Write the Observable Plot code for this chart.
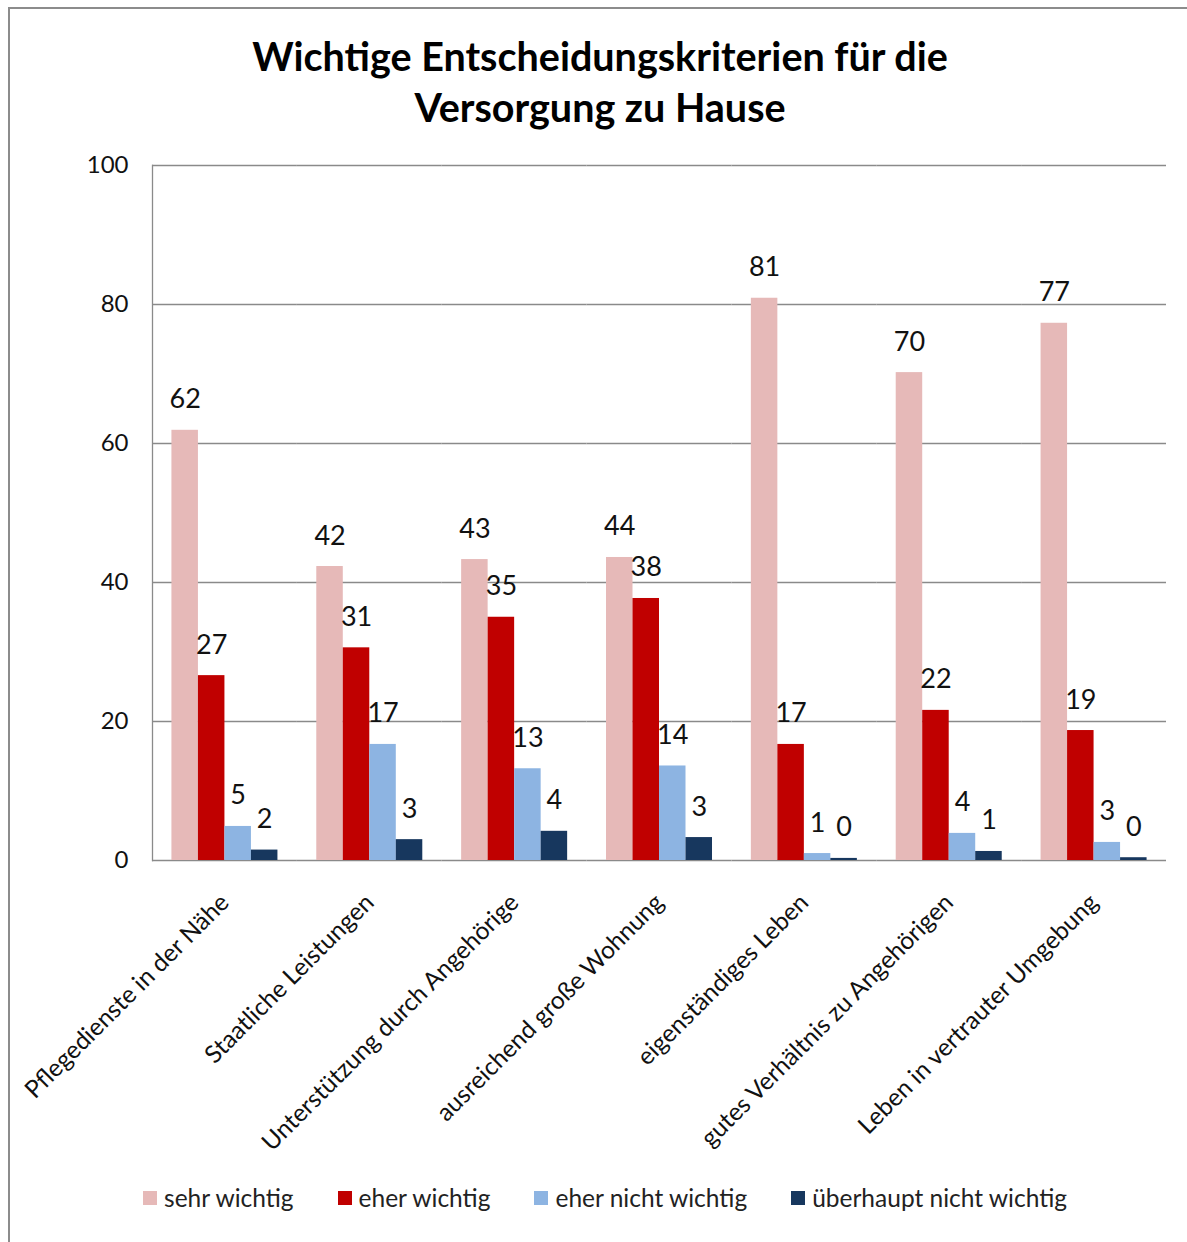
<!DOCTYPE html>
<html>
<head>
<meta charset="utf-8">
<script src="https://cdn.jsdelivr.net/npm/d3@7"></script>
<script src="https://cdn.jsdelivr.net/npm/@observablehq/plot@0.6"></script>
<style>
  html, body { margin: 0; padding: 0; background: #fff; }
  body { width: 1187px; height: 1242px; position: relative; overflow: hidden; font-family: Lato, "Open Sans", sans-serif; }
  #frame { position: absolute; left: 8px; top: 7px; width: 1200px; height: 1260px; border-left: 2px solid #8c8c8c; border-top: 2px solid #8c8c8c; }
  #title { position: absolute; left: 0; width: 1200px; top: 30px; text-align: center; font-weight: bold; font-size: 39.5px; line-height: 51px; color: #000; }
  #chart { position: absolute; left: 0; top: 140px; }
  #legend { position: absolute; top: 1183px; left: 0; width: 1210px; display: flex; justify-content: center; gap: 44px; font-size: 24.5px; color: #222; }
  .item { display: flex; align-items: center; gap: 7px; }
  .sw { width: 14px; height: 14px; display: inline-block; }
</style>
</head>
<body>
<div id="frame"></div>
<div id="title">Wichtige Entscheidungskriterien für die<br>Versorgung zu Hause</div>
<div id="chart"></div>
<div id="legend"></div>
<script>
const categories = [
  "Pflegedienste in der Nähe",
  "Staatliche Leistungen",
  "Unterstützung durch Angehörige",
  "ausreichend große Wohnung",
  "eigenständiges Leben",
  "gutes Verhältnis zu Angehörigen",
  "Leben in vertrauter Umgebung"
];
const series = ["sehr wichtig", "eher wichtig", "eher nicht wichtig", "überhaupt nicht wichtig"];
const colors = ["#E6B9B8", "#C00000", "#8DB4E2", "#17375E"];
const sehrWichtig       = [61.9, 42.3, 43.3, 43.6, 80.9, 70.2, 77.3];
const eherWichtig       = [26.6, 30.6, 35.0, 37.7, 16.7, 21.6, 18.7];
const eherNichtWichtig  = [4.9, 16.7, 13.2, 13.6, 1.0, 3.9, 2.6];
const ueberhauptNicht   = [1.5, 3.0, 4.2, 3.3, 0.3, 1.3, 0.4];
const yTicks = [0, 20, 40, 60, 80, 100];

const seriesValues = [sehrWichtig, eherWichtig, eherNichtWichtig, ueberhauptNicht];
const data = [];
categories.forEach((c, i) => {
  series.forEach((s, j) => data.push({category: c, series: s, value: seriesValues[j][i]}));
});

const chart = Plot.plot({
  width: 1187,
  height: 1020,
  marginLeft: 152,
  marginRight: 21,
  marginTop: 25,
  marginBottom: 300,
  style: {fontFamily: "Lato, 'Open Sans', sans-serif", background: "transparent"},
  fx: {domain: categories, padding: 0, round: false, label: null},
  x: {domain: series, paddingInner: 0, paddingOuter: 0.733, round: false, axis: null},
  y: {domain: [0, 100], axis: null},
  color: {domain: series, range: colors},
  marks: [
    Plot.ruleY(yTicks, {stroke: "#8a8a8a", strokeWidth: 1.3}),
    Plot.axisY({ticks: yTicks, tickSize: 0, tickPadding: 24, fontSize: 24, fill: "#111", label: null}),
    Plot.frame({anchor: "left", facetAnchor: "left", stroke: "#8a8a8a", strokeWidth: 1.3}),
    Plot.barY(data, {fx: "category", x: "series", y: "value", fill: "series"}),
    Plot.text(data, {fx: "category", x: "series", y: "value", text: d => String(Math.round(d.value)), lineAnchor: "bottom", dy: -22, fontSize: 27, fill: "#111"}),
    Plot.axisFx({anchor: "bottom", tickRotate: -45, tickSize: 0, tickPadding: 38, fontSize: 24.5, label: null, fill: "#111"})
  ]
});
document.getElementById("chart").appendChild(chart);

const legend = d3.select("#legend");
series.forEach((s, j) => {
  const it = legend.append("div").attr("class", "item");
  it.append("span").attr("class", "sw").style("background", colors[j]);
  it.append("span").text(s);
});
</script>
</body>
</html>
